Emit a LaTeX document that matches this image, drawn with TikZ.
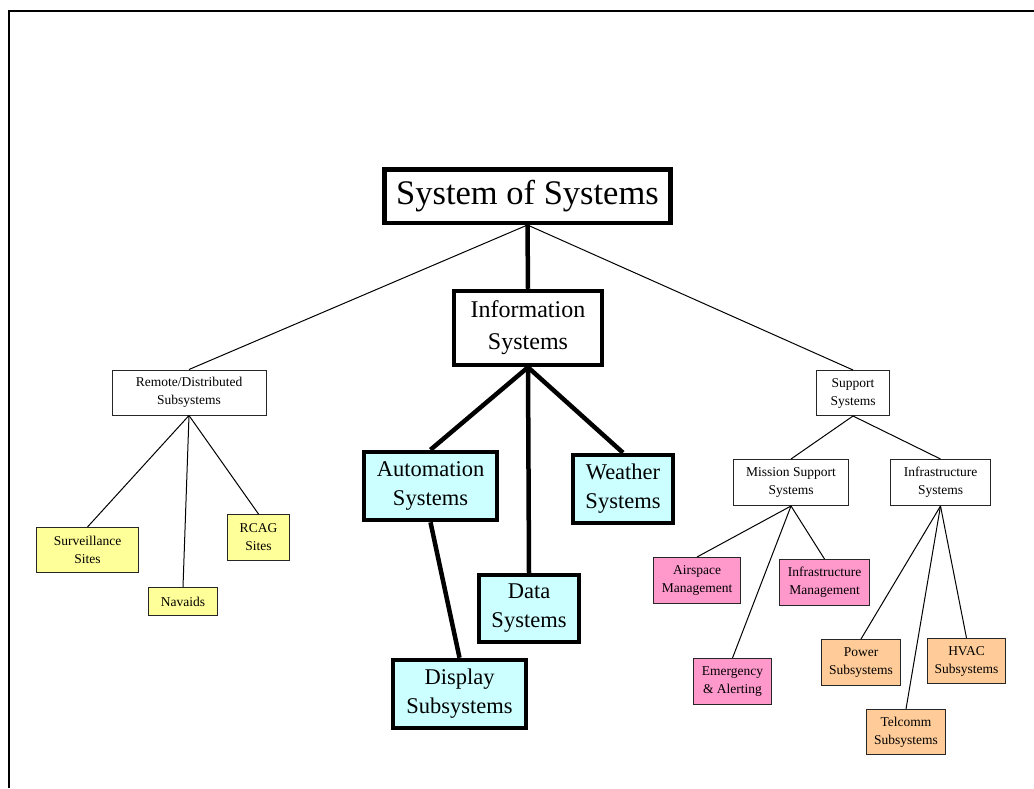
\documentclass[tikz,border=0pt]{standalone}
\usepackage{fontspec}
\setmainfont{Liberation Serif}
\definecolor{cyanfill}{HTML}{CCFFFF}
\definecolor{yellowfill}{HTML}{FFFF99}
\definecolor{pinkfill}{HTML}{FF99CC}
\definecolor{orangefill}{HTML}{FFCC99}
\begin{document}
\begin{tikzpicture}[x=1pt,y=-1pt,
  box/.style={draw=black!85, line width=1pt, fill=white, inner sep=0pt, align=center,
              font=\fontsize{13.5}{18}\selectfont},
  ybox/.style={box, fill=yellowfill},
  pbox/.style={box, fill=pinkfill},
  obox/.style={box, fill=orangefill},
  bigbox/.style={draw, line width=4.5pt, fill=cyanfill, inner sep=0pt, align=center,
              font=\fontsize{22.5}{29}\selectfont},
  thinlink/.style={line width=1pt},
  thicklink/.style={line width=4.5pt},
]
\useasboundingbox (0,0) rectangle (1034,788);
\fill[white] (0,0) rectangle (1034,788);
% frame
\draw[line width=2.5pt] (9,788) -- (9,11) -- (1034,11);

% top
\node[draw, line width=4.5pt, fill=white, inner sep=0pt, minimum width=286pt, minimum height=53.5pt,
      font=\fontsize{34.5}{40}\selectfont] (sos) at (527.5,196) {System of Systems};
\node[bigbox, fill=white, minimum width=148pt, minimum height=74pt,
      font=\fontsize{24}{32}\selectfont] (info) at (528,328) {Information\\Systems};

% information branch
\node[bigbox, minimum width=133pt, minimum height=68pt] (auto) at (430.5,486) {Automation\\Systems};
\node[bigbox, minimum width=100pt, minimum height=68pt] (weather) at (623,489) {Weather\\Systems};
\node[bigbox, minimum width=100pt, minimum height=67pt] (data) at (529,608.5) {Data\\Systems};
\node[bigbox, minimum width=133pt, minimum height=68pt] (display) at (459.5,694) {Display\\Subsystems};

% remote branch
\node[box, minimum width=154pt, minimum height=45pt] (remote) at (189,392.5) {Remote/Distributed\\Subsystems};
\node[ybox, minimum width=102pt, minimum height=45pt] (surv) at (87.5,550) {Surveillance\\Sites};
\node[ybox, minimum width=69pt, minimum height=28pt] (navaids) at (183,601.5) {Navaids};
\node[ybox, minimum width=62pt, minimum height=46pt] (rcag) at (258.5,537.5) {RCAG\\Sites};

% support branch
\node[box, minimum width=73pt, minimum height=45pt] (support) at (853,393) {Support\\Systems};
\node[box, minimum width=115pt, minimum height=46pt] (mission) at (791,482.5) {Mission Support\\Systems};
\node[box, minimum width=100pt, minimum height=46pt] (infra) at (940.5,482.5) {Infrastructure\\Systems};
\node[pbox, minimum width=87pt, minimum height=46pt] (airspace) at (697,580.5) {Airspace\\Management};
\node[pbox, minimum width=90pt, minimum height=46pt] (infmgmt) at (824.5,582.5) {Infrastructure\\Management};
\node[pbox, minimum width=78pt, minimum height=46pt] (emerg) at (732.5,681.5) {Emergency\\\& Alerting};
\node[obox, minimum width=79pt, minimum height=46pt] (power) at (861,662.5) {Power\\Subsystems};
\node[obox, minimum width=78pt, minimum height=45pt] (hvac) at (966.5,661) {HVAC\\Subsystems};
\node[obox, minimum width=79pt, minimum height=45pt] (telcomm) at (906,732) {Telcomm\\Subsystems};

% connectors
\draw[thinlink] (sos.south) -- (remote.north);
\draw[thinlink] (sos.south) -- (support.north);
\draw[thicklink] (sos.south) -- (info.north);
\draw[thicklink] (info.south) -- (auto.north);
\draw[thicklink] (info.south) -- (data.north);
\draw[thicklink] (info.south) -- (weather.north);
\draw[thicklink] (auto.south) -- (display.north);
\draw[thinlink] (remote.south) -- (surv.north);
\draw[thinlink] (remote.south) -- (navaids.north);
\draw[thinlink] (remote.south) -- (rcag.north);
\draw[thinlink] (support.south) -- (mission.north);
\draw[thinlink] (support.south) -- (infra.north);
\draw[thinlink] (mission.south) -- (airspace.north);
\draw[thinlink] (mission.south) -- (emerg.north);
\draw[thinlink] (mission.south) -- (infmgmt.north);
\draw[thinlink] (infra.south) -- (power.north);
\draw[thinlink] (infra.south) -- (telcomm.north);
\draw[thinlink] (infra.south) -- (hvac.north);
\end{tikzpicture}
\end{document}
